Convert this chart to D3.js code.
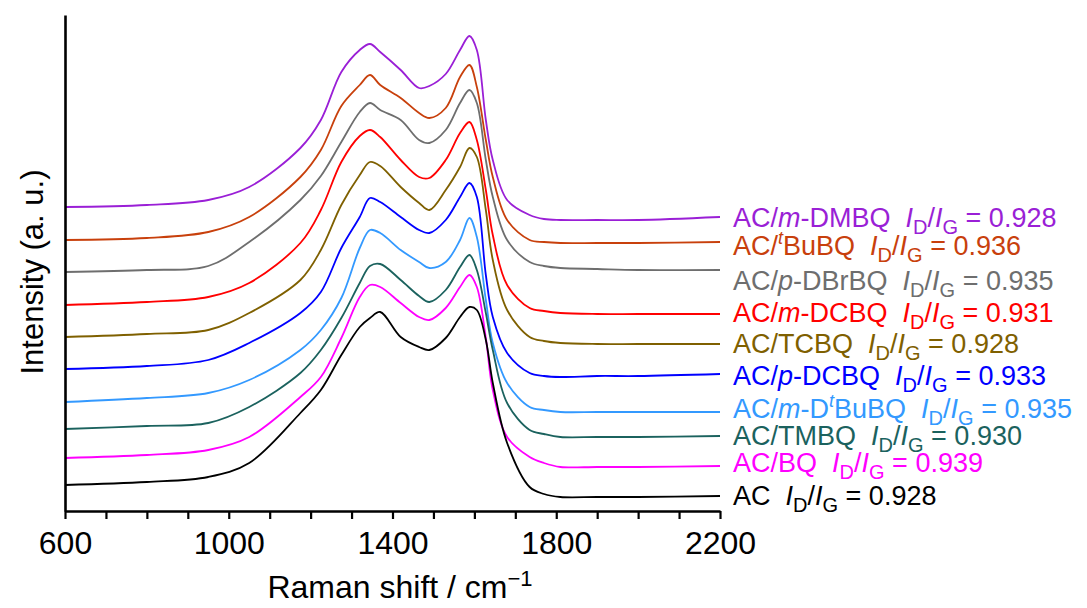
<!DOCTYPE html>
<html>
<head>
<meta charset="utf-8">
<script src="https://cdn.jsdelivr.net/npm/d3@7"></script>
<style>
  body { margin: 0; background: #fff; }
  svg { display: block; font-family: "Liberation Sans", Arial, sans-serif; }
</style>
</head>
<body>
<div id="chart"></div>
<script>
var shift = [600, 800, 950, 1050, 1175, 1225, 1275, 1320, 1345, 1370, 1420, 1465, 1490, 1530, 1565, 1588, 1606, 1628, 1645, 1680, 1735, 1770, 1810, 1900, 2000, 2200];

// stacked intensities (a. u.), top trace first
var mDMBQ  = [304, 306, 311, 324, 363, 391, 439, 461, 467, 459, 441, 423, 425, 437, 461, 475, 461, 391, 351, 311, 296, 292, 291, 291, 291, 294];
var tBuBQ  = [271, 273, 279, 294, 334, 361, 405, 426, 436, 426, 413, 398, 393, 403, 434, 446, 424, 371, 334, 291, 271, 269, 268, 268, 268, 269];
var pDBrBQ = [239, 241, 245, 269, 311, 335, 369, 399, 408, 401, 391, 371, 368, 381, 408, 421, 408, 351, 314, 271, 249, 245, 243, 242, 241, 241];
var mDCBQ  = [206, 209, 214, 228, 268, 301, 349, 375, 381, 374, 351, 334, 333, 351, 378, 389, 371, 321, 276, 226, 203, 200, 198, 197, 197, 197];
var TCBQ   = [174, 177, 181, 198, 231, 261, 306, 336, 349, 345, 324, 308, 301, 321, 344, 363, 354, 301, 251, 201, 174, 170, 168, 167, 167, 167];
var pDCBQ  = [142, 145, 151, 168, 198, 219, 263, 294, 313, 309, 294, 281, 278, 291, 314, 328, 314, 236, 194, 158, 138, 135, 134, 135, 135, 137];
var mDtBuBQ = [109, 113, 118, 131, 161, 181, 213, 263, 281, 278, 261, 249, 243, 249, 271, 293, 274, 211, 168, 128, 104, 101, 99, 99, 99, 99];
var TMBQ   = [82, 85, 88, 104, 138, 161, 193, 228, 245, 247, 231, 215, 209, 221, 244, 256, 241, 198, 161, 108, 81, 77, 74, 74, 74, 75];
var BQ     = [53, 56, 61, 74, 114, 134, 173, 214, 226, 224, 208, 194, 191, 203, 224, 236, 224, 173, 121, 74, 54, 48, 44, 44, 44, 45];
var AC     = [26, 29, 34, 48, 98, 121, 156, 184, 193, 199, 174, 164, 161, 173, 194, 204, 201, 171, 128, 68, 24, 17, 14, 14, 14, 15];

var seriesValues = [mDMBQ, tBuBQ, pDBrBQ, mDCBQ, TCBQ, pDCBQ, mDtBuBQ, TMBQ, BQ, AC];
var ratios = ["0.928", "0.936", "0.935", "0.931", "0.928", "0.933", "0.935", "0.930", "0.939", "0.928"];
var colors = ["#9a1fd6", "#c8400c", "#6e6e6e", "#ff0000", "#7f6000", "#0000ff", "#3399ff", "#1b625e", "#ff00ff", "#000000"];
// label pieces: [text, style]  (i = italic, sup = superscript italic)
var names = [
    [["AC/", ""], ["m", "i"], ["-DMBQ", ""]],
    [["AC/", ""], ["t", "sup"], ["BuBQ", ""]],
    [["AC/", ""], ["p", "i"], ["-DBrBQ", ""]],
    [["AC/", ""], ["m", "i"], ["-DCBQ", ""]],
    [["AC/TCBQ", ""]],
    [["AC/", ""], ["p", "i"], ["-DCBQ", ""]],
    [["AC/", ""], ["m", "i"], ["-D", ""], ["t", "sup"], ["BuBQ", ""]],
    [["AC/TMBQ", ""]],
    [["AC/BQ", ""]],
    [["AC", ""]]
];
var labelNudge = [10, 13, 20, 8, 9, 11, 6, 9, 6, 9];

var xTickLabels = [600, 1000, 1400, 1800, 2200];

var svgWidth = 1087;
var svgHeight = 608;

var margin = { top: 15, left: 65, right: 367, bottom: 97 };
var width = svgWidth - margin.left - margin.right;
var height = svgHeight - margin.top - margin.bottom;

var svg = d3.select("#chart")
    .append("svg")
    .attr("width", svgWidth)
    .attr("height", svgHeight);

var chartGroup = svg.append("g")
    .attr("transform", `translate(${margin.left}, ${margin.top})`);

// scales
var xScale = d3.scaleLinear().domain([600, 2200]).range([0, width]);
var yScale = d3.scaleLinear().domain([0, height]).range([height, 0]);

// traces
var line = d3.line()
    .x((d, i) => xScale(shift[i]))
    .y(d => yScale(d))
    .curve(d3.curveCatmullRom.alpha(0.5));

seriesValues.forEach(function(vals, k) {
    chartGroup.append("path")
        .datum(vals)
        .attr("d", line)
        .attr("fill", "none")
        .attr("stroke", colors[k])
        .attr("stroke-width", 1.8)
        .attr("stroke-linejoin", "round");
});

// axes
var xAxis = d3.axisBottom(xScale)
    .tickValues(d3.range(600, 2201, 100))
    .tickSize(8)
    .tickSizeOuter(0)
    .tickPadding(12)
    .tickFormat(d => xTickLabels.indexOf(d) >= 0 ? d : "");

var xg = chartGroup.append("g")
    .attr("transform", `translate(0, ${height})`)
    .call(xAxis);
xg.select(".domain").attr("stroke-width", 2.6);
xg.selectAll(".tick line").attr("stroke-width", 2.2);
xg.selectAll(".tick text")
    .attr("font-size", "32px")
    .attr("fill", "#000")
    .attr("font-family", "Liberation Sans, Arial, sans-serif");

var yg = chartGroup.append("g")
    .call(d3.axisLeft(yScale).tickValues([]).tickSizeOuter(0));
yg.select(".domain").attr("stroke-width", 2.6);

// axis titles
var xt = svg.append("text")
    .attr("x", 400)
    .attr("y", 598)
    .attr("text-anchor", "middle")
    .attr("font-size", "32px");
xt.append("tspan").text("Raman shift / cm");
xt.append("tspan").attr("dy", -12).attr("font-size", "22px").text("\u22121");

svg.append("text")
    .attr("transform", `translate(43, 272) rotate(-90)`)
    .attr("text-anchor", "middle")
    .attr("font-size", "31px")
    .text("Intensity (a. u.)");

// labels at the right end of each trace
seriesValues.forEach(function(vals, k) {
    var t = svg.append("text")
        .attr("x", 733)
        .attr("y", margin.top + yScale(vals[vals.length - 1]) + labelNudge[k])
        .attr("font-size", "27px")
        .attr("fill", colors[k]);

    var pending = 0;
    names[k].forEach(function(p) {
        var s = t.append("tspan").text(p[0]);
        if (pending) { s.attr("dy", pending); pending = 0; }
        if (p[1] === "i") s.attr("font-style", "italic");
        if (p[1] === "sup") {
            s.attr("font-style", "italic").attr("font-size", "18px").attr("dy", -11);
            pending = 11;
        }
    });
    t.append("tspan").text("\u00a0\u00a0");
    t.append("tspan").attr("font-style", "italic").text("I");
    t.append("tspan").attr("font-size", "20px").attr("dy", 7).text("D");
    t.append("tspan").attr("dy", -7).text("/");
    t.append("tspan").attr("font-style", "italic").text("I");
    t.append("tspan").attr("font-size", "20px").attr("dy", 7).text("G");
    t.append("tspan").attr("dy", -7).text(" = " + ratios[k]);
});
</script>
</body>
</html>
